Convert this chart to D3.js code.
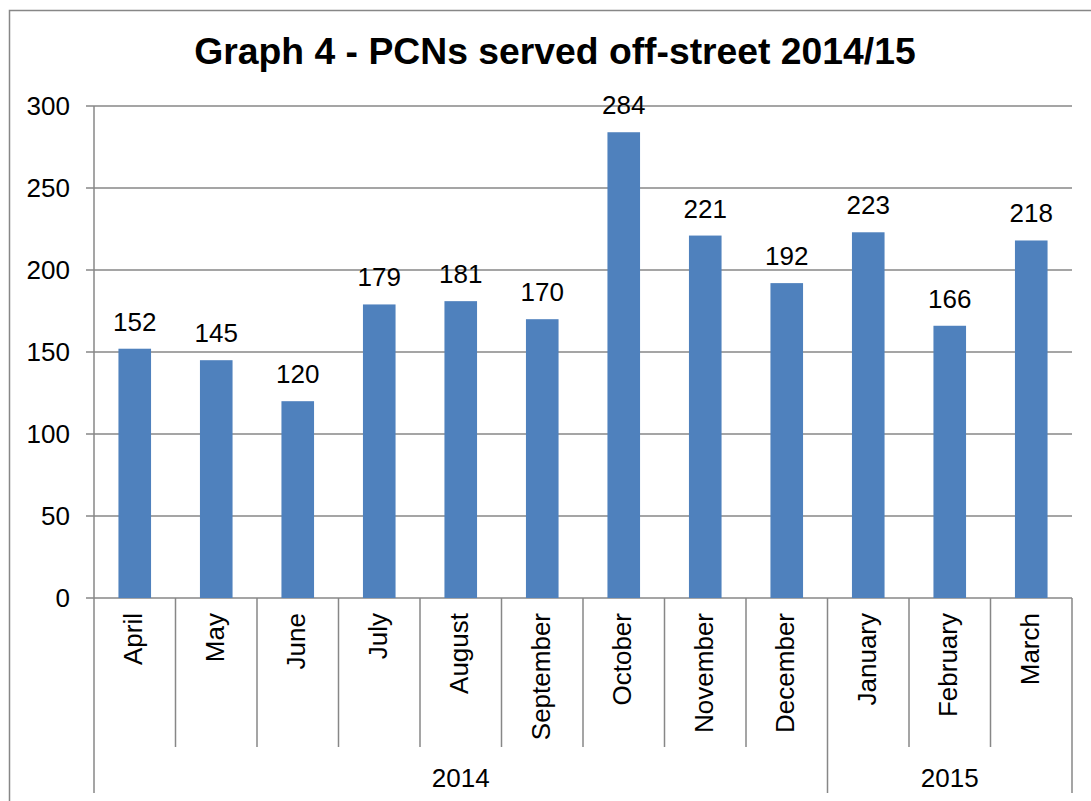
<!DOCTYPE html>
<html>
<head>
<meta charset="utf-8">
<script src="https://cdn.jsdelivr.net/npm/d3@7"></script>
<style>
  body { margin: 0; background: #fff; }
  text { font-family: Arial, "Liberation Sans", sans-serif; fill: #000; }
</style>
</head>
<body>
<div id="chart"></div>
<script>
const months = ['April', 'May', 'June', 'July', 'August', 'September',
  'October', 'November', 'December', 'January', 'February', 'March'];
const values = [152, 145, 120, 179, 181, 170, 284, 221, 192, 223, 166, 218];
const monthYear = ['2014', '2014', '2014', '2014', '2014', '2014',
  '2014', '2014', '2014', '2015', '2015', '2015'];
const years = ['2014', '2015'];
const yTicks = [0, 50, 100, 150, 200, 250, 300];
const title = 'Graph 4 - PCNs served off-street 2014/15';

const width = 1091;
const height = 801;
const plot = { left: 94, right: 1072, top: 106, bottom: 598 };
const lineColor = '#878787';
const fs = '26px';

const svg = d3.select('#chart')
  .append('svg')
  .attr('width', width)
  .attr('height', height);

// chart frame (runs off the right and bottom edges)
svg.append('rect')
  .attr('x', 9.5)
  .attr('y', 10.5)
  .attr('width', 1200)
  .attr('height', 900)
  .attr('fill', 'none')
  .attr('stroke', lineColor)
  .attr('stroke-width', 1.5);

svg.append('text')
  .attr('x', 555)
  .attr('y', 64)
  .attr('text-anchor', 'middle')
  .style('font-size', '37.3px')
  .style('font-weight', 'bold')
  .text(title);

const xScale = d3.scaleBand()
  .domain(months)
  .range([plot.left, plot.right])
  .padding(0);

const yScale = d3.scaleLinear()
  .domain([0, 300])
  .range([plot.bottom, plot.top]);

const bw = xScale.bandwidth();

// gridlines + tick marks
svg.selectAll('.grid')
  .data(yTicks)
  .enter()
  .append('line')
  .attr('class', 'grid')
  .attr('x1', plot.left - 8)
  .attr('x2', plot.right)
  .attr('y1', d => yScale(d))
  .attr('y2', d => yScale(d))
  .attr('stroke', lineColor)
  .attr('stroke-width', 1.5);

svg.selectAll('.ylab')
  .data(yTicks)
  .enter()
  .append('text')
  .attr('class', 'ylab')
  .attr('x', plot.left - 24)
  .attr('y', d => yScale(d))
  .attr('dy', '0.36em')
  .attr('text-anchor', 'end')
  .style('font-size', fs)
  .text(d => d);

// bars
svg.selectAll('.bar')
  .data(months)
  .enter()
  .append('rect')
  .attr('class', 'bar')
  .attr('x', d => xScale(d) + bw * 0.3)
  .attr('width', bw * 0.4)
  .attr('y', (d, i) => yScale(values[i]))
  .attr('height', (d, i) => plot.bottom - yScale(values[i]))
  .attr('fill', '#4f81bd');

svg.selectAll('.val')
  .data(months)
  .enter()
  .append('text')
  .attr('class', 'val')
  .attr('x', d => xScale(d) + bw / 2)
  .attr('y', (d, i) => yScale(values[i]) - 18)
  .attr('text-anchor', 'middle')
  .style('font-size', fs)
  .text((d, i) => values[i]);

// y axis line, down through the category area
svg.append('line')
  .attr('x1', plot.left).attr('x2', plot.left)
  .attr('y1', plot.top).attr('y2', 793)
  .attr('stroke', lineColor)
  .attr('stroke-width', 1.5);

// month separators; longer where the year changes
svg.selectAll('.sep')
  .data(months)
  .enter()
  .append('line')
  .attr('class', 'sep')
  .attr('x1', d => xScale(d) + bw)
  .attr('x2', d => xScale(d) + bw)
  .attr('y1', plot.bottom)
  .attr('y2', (d, i) => (i === months.length - 1 || monthYear[i] !== monthYear[i + 1]) ? 793 : 747)
  .attr('stroke', lineColor)
  .attr('stroke-width', 1.5);

svg.selectAll('.mlab')
  .data(months)
  .enter()
  .append('text')
  .attr('class', 'mlab')
  .attr('transform', d => 'translate(' + (xScale(d) + bw / 2) + ',' + (plot.bottom + 15) + ') rotate(-90)')
  .attr('dy', '0.28em')
  .attr('text-anchor', 'end')
  .style('font-size', fs)
  .text(d => d);

// year labels centred under their months
svg.selectAll('.ylabel')
  .data(years)
  .enter()
  .append('text')
  .attr('class', 'ylabel')
  .attr('x', yr => {
    const ms = months.filter((m, i) => monthYear[i] === yr);
    return (xScale(ms[0]) + xScale(ms[ms.length - 1]) + bw) / 2;
  })
  .attr('y', 787)
  .attr('text-anchor', 'middle')
  .style('font-size', fs)
  .text(d => d);
</script>
</body>
</html>
